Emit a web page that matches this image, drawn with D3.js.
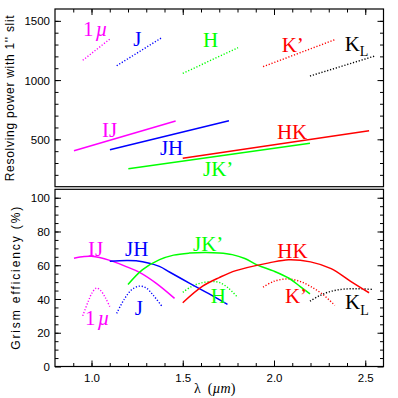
<!DOCTYPE html>
<html><head><meta charset="utf-8">
<script src="https://cdn.jsdelivr.net/npm/d3@7"></script>
<style>body{margin:0;background:#fff} svg{display:block}</style>
</head><body>
<svg id="c" width="398" height="398"></svg>
<script>
// ---------- data ----------
const lambdaDomain = [0.8, 2.6];
const resDomain = [100, 1600];
const effDomain = [0, 105];

// Resolving power with 1" slit (top panel): [lambda, R]
const res1mu = [[0.952, 1167], [1.101, 1347]];
const resJ   = [[1.138, 1121], [1.385, 1358]];
const resH   = [[1.500, 1057], [1.803, 1273]];
const resKp  = [[1.940, 1113], [2.333, 1341]];
const resKL  = [[2.197, 1034], [2.552, 1203]];
const resIJ  = [[0.904, 404], [1.461, 655]];
const resJH  = [[1.101, 412], [1.753, 657]];
const resJKp = [[1.202, 252], [2.197, 466]];
const resHK  = [[1.500, 340], [2.521, 573]];

// Grism efficiency (%) (bottom panel): [lambda, %]
const effIJ  = [[0.904,64.2],[0.96,65.2],[1.0,65.3],[1.10,62.9],[1.19,59.2],[1.263,55.8],[1.355,49.3],[1.455,40.4]];
const effJH  = [[1.10,62.3],[1.20,62.8],[1.28,62.1],[1.372,59.3],[1.427,56.0],[1.536,49.4],[1.64,43.3],[1.745,36.8]];
const effJKp = [[1.20,48.6],[1.28,57.4],[1.373,63.3],[1.45,66],[1.536,67.2],[1.62,67.6],[1.70,67.3],[1.771,66.3],[1.84,64],[1.91,60.1],[2.0,56.5],[2.082,52.3],[2.142,47.5],[2.197,43]];
const effHK  = [[1.50,37.8],[1.609,47.6],[1.70,52.7],[1.791,56.8],[1.973,61.4],[2.08,63.3],[2.2,62],[2.313,58],[2.42,50.5],[2.521,43.7]];
const eff1mu = [[0.952,30],[0.98,38],[1.005,44],[1.027,46.5],[1.05,45],[1.075,41],[1.10,35.5]];
const effJ   = [[1.138,31.5],[1.18,40],[1.22,45.5],[1.263,47.6],[1.30,46.5],[1.34,42],[1.385,35.8]];
const effH   = [[1.50,44],[1.55,47.5],[1.60,49.5],[1.66,50.3],[1.70,49.8],[1.75,46.5],[1.803,40.7]];
const effKp  = [[1.94,47],[2.0,50.5],[2.076,51.9],[2.14,50.5],[2.20,47.5],[2.27,42.5],[2.333,36.2]];
const effKL  = [[2.197,38.7],[2.25,42],[2.31,44.5],[2.37,45.7],[2.43,46.1],[2.48,46],[2.54,45.7]];

// tick values
const xMajor = [1.0, 1.5, 2.0, 2.5];
const xMinor = d3.range(9, 26).map(v => v / 10);
const resMajor = [500, 1000, 1500];
const resMinor = d3.range(200, 1600, 100);
const effMajor = [0, 20, 40, 60, 80, 100];
const effMinor = d3.range(5, 105, 5);

// label anchors (lambda, value)
const topLabels = [
  {t:"1µ", lam:0.953, v:1372, c:"#ff00ff"},
  {t:"J",  lam:1.229, v:1288, c:"#0000ff"},
  {t:"H",  lam:1.611, v:1282, c:"#00ff00"},
  {t:"K’", lam:2.042, v:1240, c:"#ff0000"},
  {t:"KL", lam:2.387, v:1248, c:"#000000"},
  {t:"IJ", lam:1.058, v:520,  c:"#ff00ff"},
  {t:"JH", lam:1.375, v:368,  c:"#0000ff"},
  {t:"HK", lam:2.016, v:500,  c:"#ff0000"},
  {t:"JK’",lam:1.611, v:190,  c:"#00ff00"}
];
const botLabels = [
  {t:"IJ", lam:0.981, v:65.7, c:"#ff00ff"},
  {t:"JH", lam:1.184, v:65.7, c:"#0000ff"},
  {t:"JK’",lam:1.556, v:68.4, c:"#00ff00"},
  {t:"HK", lam:2.018, v:64.1, c:"#ff0000"},
  {t:"1µ", lam:0.964, v:24.6, c:"#ff00ff"},
  {t:"J",  lam:1.237, v:30.5, c:"#0000ff"},
  {t:"H",  lam:1.653, v:37.5, c:"#00ff00"},
  {t:"K’", lam:2.060, v:37.5, c:"#ff0000"},
  {t:"KL", lam:2.389, v:33.9, c:"#000000"}
];

// ---------- drawing ----------
const L = 55, R = 383.5, T1 = 9, B1 = 186.7, T2 = 189.3, B2 = 366.5;
const svg = d3.select("#c");
const x = d3.scaleLinear(lambdaDomain, [L, R]);
const yTop = d3.scaleLinear(resDomain, [B1, T1]);
const yBot = d3.scaleLinear(effDomain, [B2, T2]);

const sans = "'Liberation Sans', Arial, sans-serif";
const serif = "'Liberation Serif', 'Times New Roman', serif";
const MAJ = 6, MIN = 3.5;

function axisG(axis, tx, ty, labels) {
  const g = svg.append("g").attr("transform", `translate(${tx},${ty})`).call(axis);
  g.select(".domain").remove();
  g.selectAll(".tick line").attr("stroke", "#000").attr("stroke-width", 1);
  if (!labels) g.selectAll(".tick text").remove();
  else g.selectAll(".tick text").attr("font-family", sans).attr("font-size", 11.5).attr("fill", "#000");
  return g;
}

// top panel axes
axisG(d3.axisLeft(yTop).tickValues(resMajor).tickSize(-MAJ).tickPadding(5).tickFormat(d3.format("d")), L, 0, true);
axisG(d3.axisLeft(yTop).tickValues(resMinor).tickSize(-MIN), L, 0, false);
axisG(d3.axisRight(yTop).tickValues(resMajor).tickSize(-MAJ), R, 0, false);
axisG(d3.axisRight(yTop).tickValues(resMinor).tickSize(-MIN), R, 0, false);
axisG(d3.axisTop(x).tickValues(xMajor).tickSize(-MAJ), 0, T1, false);
axisG(d3.axisTop(x).tickValues(xMinor).tickSize(-MIN), 0, T1, false);

// bottom panel axes
axisG(d3.axisLeft(yBot).tickValues(effMajor).tickSize(-MAJ).tickPadding(5).tickFormat(d3.format("d")), L, 0, true);
axisG(d3.axisLeft(yBot).tickValues(effMinor).tickSize(-MIN), L, 0, false);
axisG(d3.axisRight(yBot).tickValues(effMajor).tickSize(-MAJ), R, 0, false);
axisG(d3.axisRight(yBot).tickValues(effMinor).tickSize(-MIN), R, 0, false);
axisG(d3.axisBottom(x).tickValues(xMajor).tickSize(-MAJ).tickPadding(7).tickFormat(d3.format(".1f")), 0, B2, true);
axisG(d3.axisBottom(x).tickValues(xMinor).tickSize(-MIN), 0, B2, false);

// y tick labels slightly lower
svg.selectAll("g .tick text").filter(function(){ return this.getAttribute("x") && +this.getAttribute("x") < 0; }).attr("dy", "0.36em");

// frames
svg.append("rect").attr("x", L).attr("y", T1).attr("width", R - L).attr("height", B1 - T1)
  .attr("fill", "none").attr("stroke", "#000").attr("stroke-width", 1.2);
svg.append("rect").attr("x", L).attr("y", T2).attr("width", R - L).attr("height", B2 - T2)
  .attr("fill", "none").attr("stroke", "#000").attr("stroke-width", 1.2);

// series styling
const series = [
  {d: res1mu, y: yTop, c: "#ff00ff", dot: true},
  {d: resJ,   y: yTop, c: "#0000ff", dot: true},
  {d: resH,   y: yTop, c: "#00ff00", dot: true},
  {d: resKp,  y: yTop, c: "#ff0000", dot: true},
  {d: resKL,  y: yTop, c: "#000000", dot: true},
  {d: resIJ,  y: yTop, c: "#ff00ff", dot: false},
  {d: resJH,  y: yTop, c: "#0000ff", dot: false},
  {d: resJKp, y: yTop, c: "#00ff00", dot: false},
  {d: resHK,  y: yTop, c: "#ff0000", dot: false},
  {d: eff1mu, y: yBot, c: "#ff00ff", dot: true},
  {d: effJ,   y: yBot, c: "#0000ff", dot: true},
  {d: effH,   y: yBot, c: "#00ff00", dot: true},
  {d: effKp,  y: yBot, c: "#ff0000", dot: true},
  {d: effKL,  y: yBot, c: "#000000", dot: true},
  {d: effIJ,  y: yBot, c: "#ff00ff", dot: false},
  {d: effJH,  y: yBot, c: "#0000ff", dot: false},
  {d: effJKp, y: yBot, c: "#00ff00", dot: false},
  {d: effHK,  y: yBot, c: "#ff0000", dot: false}
];
series.forEach(s => {
  const line = d3.line().x(p => x(p[0])).y(p => s.y(p[1])).curve(d3.curveCatmullRom.alpha(0.5));
  svg.append("path").attr("d", line(s.d)).attr("fill", "none").attr("stroke", s.c)
    .attr("stroke-width", s.dot ? 1.4 : 1.5)
    .attr("stroke-dasharray", s.dot ? "1.2,1.8" : null);
});

// curve labels
function drawLabel(lb, yScale) {
  const t = svg.append("text").attr("x", x(lb.lam)).attr("y", yScale(lb.v))
    .attr("font-family", serif).attr("font-size", 21).attr("fill", lb.c);
  if (lb.t === "1µ") {
    t.append("tspan").text("1");
    t.append("tspan").attr("font-style", "italic").attr("dx", 2).text("µ");
  } else if (lb.t === "KL") {
    t.append("tspan").text("K");
    t.append("tspan").attr("font-size", 14).attr("dy", 5.5).text("L");
  } else {
    t.text(lb.t);
  }
}
topLabels.forEach(lb => drawLabel(lb, yTop));
botLabels.forEach(lb => drawLabel(lb, yBot));

// axis titles
svg.append("text").attr("transform", `translate(13.5,98.3) rotate(-90)`)
  .attr("text-anchor", "middle").attr("font-family", sans).attr("font-size", 12)
  .attr("textLength", 166).attr("lengthAdjust", "spacing")
  .text("Resolving power with 1'' slit");
svg.append("text").attr("transform", `translate(19.5,278.3) rotate(-90)`)
  .attr("text-anchor", "middle").attr("font-family", sans).attr("font-size", 12)
  .attr("textLength", 143).attr("lengthAdjust", "spacing")
  .text("Grism efficiency (%)");
const xt = svg.append("text").attr("x", 194).attr("y", 393)
  .attr("font-family", serif).attr("font-size", 14);
xt.append("tspan").text("λ");
xt.append("tspan").attr("dx", 7).text("(");
xt.append("tspan").attr("font-style", "italic").text("µm");
xt.append("tspan").text(")");
</script>
</body></html>
